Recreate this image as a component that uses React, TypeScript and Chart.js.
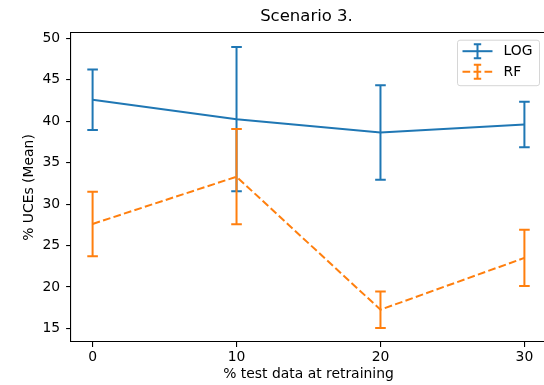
import React, { useEffect, useRef } from "react";
import { Chart, registerables } from "chart.js";

Chart.register(...registerables);

const TITLE = "Scenario 3.";
const X_LABEL = "% test data at retraining";
const Y_LABEL = "% UCEs (Mean)";
const X_VALUES = [0, 10, 20, 30];
const X_TICKS = [0, 10, 20, 30];
const Y_TICKS = [15, 20, 25, 30, 35, 40, 45, 50];
const SERIES_NAMES = ["LOG", "RF"];
const LOG_MEAN = [42.6, 40.25, 38.65, 39.6];
const LOG_ERR = [3.65, 8.7, 5.7, 2.75];
const RF_MEAN = [27.6, 33.3, 17.25, 23.5];
const RF_ERR = [3.9, 5.75, 2.2, 3.4];

const BLUE = "#1f77b4";
const ORANGE = "#ff7f0e";
const LW = 2;
const DASH = [7.7, 3.3];
const FONT = "'DejaVu Sans', sans-serif";
const FS = 13.9;
const TITLE_FS = 16.5;
const TICK_LEN = 4.9;

const CANVAS_W = 552;
const CANVAS_H = 385;

const errorBarPlugin = {
  id: "errorBars",
  afterDatasetDraw(chart: any, args: any) {
    const ds: any = chart.data.datasets[args.index];
    const errs: number[] = ds.errors;
    if (!errs) return;
    const meta = args.meta;
    const yScale = chart.scales.y;
    const ctx = chart.ctx;
    ctx.save();
    ctx.strokeStyle = ds.borderColor;
    ctx.lineWidth = LW;
    ctx.setLineDash([]);
    meta.data.forEach((pt: any, i: number) => {
      const v = ds.data[i].y;
      const yt = yScale.getPixelForValue(v + errs[i]);
      const yb = yScale.getPixelForValue(v - errs[i]);
      const x = pt.x;
      ctx.beginPath();
      ctx.moveTo(x, yt);
      ctx.lineTo(x, yb);
      ctx.moveTo(x - 5.3, yt);
      ctx.lineTo(x + 5.3, yt);
      ctx.moveTo(x - 5.3, yb);
      ctx.lineTo(x + 5.3, yb);
      ctx.stroke();
    });
    ctx.restore();
  },
};

const decorPlugin = {
  id: "decor",
  afterDraw(chart: any) {
    const ctx = chart.ctx;
    const ca = chart.chartArea;
    ctx.save();
    // top and right spines
    ctx.strokeStyle = "#000";
    ctx.lineWidth = 1;
    ctx.beginPath();
    ctx.moveTo(ca.left - 0.5, ca.top - 0.5);
    ctx.lineTo(ca.right, ca.top - 0.5);
    ctx.lineTo(ca.right, ca.bottom);
    ctx.stroke();
    // title
    ctx.fillStyle = "#000";
    ctx.font = `${TITLE_FS}px ${FONT}`;
    ctx.textAlign = "center";
    ctx.textBaseline = "middle";
    ctx.fillText(TITLE, (ca.left + ca.right) / 2 - 2, 17);
    // legend
    const bw = 82;
    const bh = 45.5;
    const bx = ca.right - 6.5 - bw;
    const by = ca.top + 7.2;
    const r = 2.5;
    ctx.beginPath();
    ctx.moveTo(bx + r, by);
    ctx.lineTo(bx + bw - r, by);
    ctx.arcTo(bx + bw, by, bx + bw, by + r, r);
    ctx.lineTo(bx + bw, by + bh - r);
    ctx.arcTo(bx + bw, by + bh, bx + bw - r, by + bh, r);
    ctx.lineTo(bx + r, by + bh);
    ctx.arcTo(bx, by + bh, bx, by + bh - r, r);
    ctx.lineTo(bx, by + r);
    ctx.arcTo(bx, by, bx + r, by, r);
    ctx.closePath();
    ctx.fillStyle = "rgba(255,255,255,0.8)";
    ctx.fill();
    ctx.strokeStyle = "#d6d6d6";
    ctx.lineWidth = 1;
    ctx.stroke();
    chart.data.datasets.forEach((ds: any, i: number) => {
      const y = by + 11 + i * 20.5;
      const x0 = bx + 5;
      const x1 = bx + 35;
      const xc = (x0 + x1) / 2;
      ctx.strokeStyle = ds.borderColor;
      ctx.lineWidth = LW;
      ctx.setLineDash(ds.borderDash || []);
      ctx.beginPath();
      ctx.moveTo(x0, y);
      ctx.lineTo(x1, y);
      ctx.stroke();
      ctx.setLineDash([]);
      ctx.beginPath();
      ctx.moveTo(xc, y - 7);
      ctx.lineTo(xc, y + 7);
      ctx.moveTo(xc - 3.7, y - 7);
      ctx.lineTo(xc + 3.7, y - 7);
      ctx.moveTo(xc - 3.7, y + 7);
      ctx.lineTo(xc + 3.7, y + 7);
      ctx.stroke();
      ctx.fillStyle = "#000";
      ctx.font = `${FS}px ${FONT}`;
      ctx.textAlign = "left";
      ctx.textBaseline = "middle";
      ctx.fillText(ds.label, bx + 46, y + 0.5);
    });
    ctx.restore();
  },
};

export default function App() {
  const ref = useRef<HTMLCanvasElement | null>(null);
  useEffect(() => {
    if (!ref.current) return;
    const chart = new Chart(ref.current, {
      type: "line",
      data: {
        datasets: [
          {
            label: SERIES_NAMES[0],
            data: X_VALUES.map((x, i) => ({ x, y: LOG_MEAN[i] })),
            borderColor: BLUE,
            backgroundColor: BLUE,
            borderWidth: LW,
            pointRadius: 0,
            tension: 0,
            fill: false,
            order: 1,
            errors: LOG_ERR,
          } as any,
          {
            label: SERIES_NAMES[1],
            data: X_VALUES.map((x, i) => ({ x, y: RF_MEAN[i] })),
            borderColor: ORANGE,
            backgroundColor: ORANGE,
            borderWidth: LW,
            borderDash: DASH,
            pointRadius: 0,
            tension: 0,
            fill: false,
            order: 0,
            errors: RF_ERR,
          } as any,
        ],
      },
      options: {
        animation: false,
        responsive: false,
        layout: { padding: { left: 0, top: 33, right: 6, bottom: 0 } },
        plugins: {
          legend: { display: false },
          tooltip: { enabled: false },
          title: { display: false },
        },
        scales: {
          x: {
            type: "linear",
            min: -1.5,
            max: 31.5,
            afterFit: (s: any) => {
              s.height = 43;
            },
            afterBuildTicks: (s: any) => {
              s.ticks = X_TICKS.map((v) => ({ value: v }));
            },
            grid: {
              display: true,
              drawOnChartArea: false,
              drawTicks: true,
              tickLength: TICK_LEN,
              color: "#000",
              lineWidth: 1.1,
            },
            border: { display: true, color: "#000", width: 1.1 },
            ticks: {
              color: "#000",
              font: { family: FONT, size: FS },
              padding: 2,
              maxRotation: 0,
            },
            title: {
              display: true,
              text: X_LABEL,
              color: "#000",
              font: { family: FONT, size: FS },
              padding: { top: 0, bottom: 2.7 },
            },
          },
          y: {
            type: "linear",
            min: 13.35,
            max: 50.65,
            afterFit: (s: any) => {
              s.width = 71;
            },
            afterBuildTicks: (s: any) => {
              s.ticks = Y_TICKS.map((v) => ({ value: v }));
            },
            grid: {
              display: true,
              drawOnChartArea: false,
              drawTicks: true,
              tickLength: TICK_LEN,
              color: "#000",
              lineWidth: 1.1,
            },
            border: { display: true, color: "#000", width: 1.1 },
            ticks: {
              color: "#000",
              font: { family: FONT, size: FS },
              padding: 6,
            },
            title: {
              display: true,
              text: Y_LABEL,
              color: "#000",
              font: { family: FONT, size: FS },
              padding: { top: 20.7, bottom: 0 },
            },
          },
        },
      } as any,
      plugins: [errorBarPlugin, decorPlugin],
    });
    return () => chart.destroy();
  }, []);
  return (
    <div
      style={{
        position: "fixed",
        left: 0,
        top: 0,
        width: 544,
        height: 385,
        overflow: "hidden",
        background: "#fff",
      }}
    >
      <canvas ref={ref} width={CANVAS_W} height={CANVAS_H} style={{ display: "block" }} />
    </div>
  );
}
